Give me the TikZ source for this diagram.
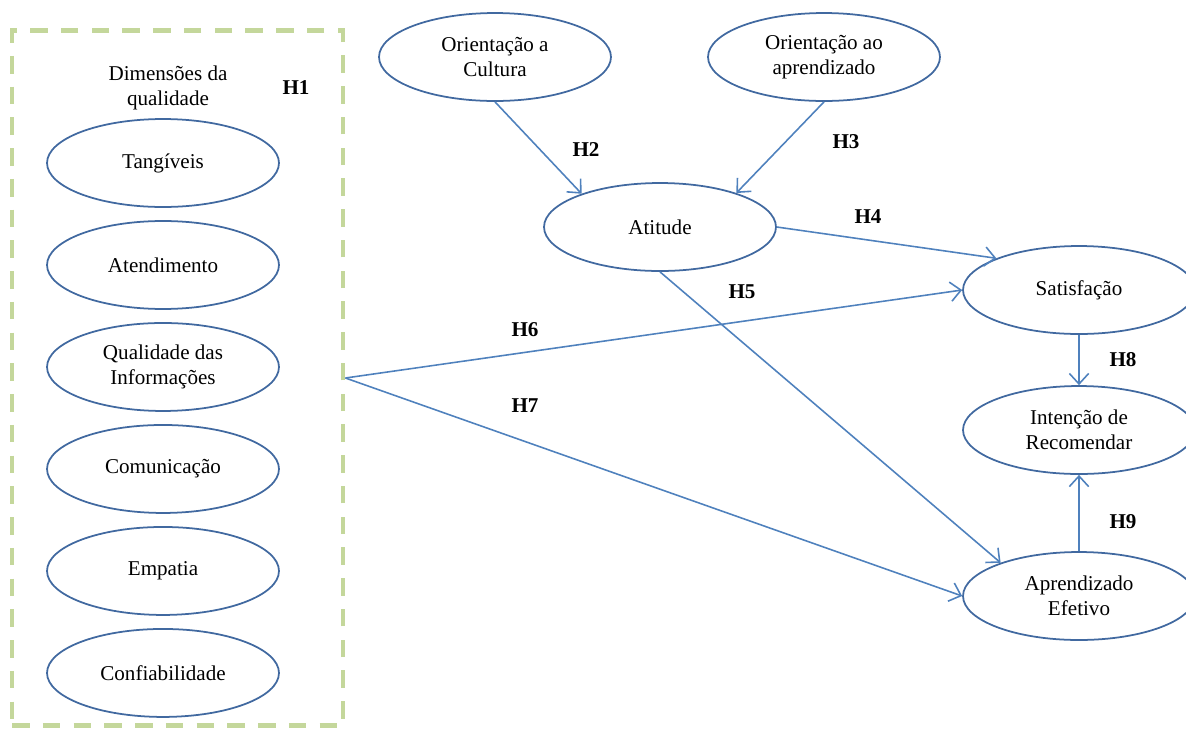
\documentclass[tikz,border=0pt]{standalone}
\usepackage{fontspec}
\setmainfont{Liberation Serif}
\usetikzlibrary{arrows.meta, positioning, shapes.geometric}

\definecolor{ovalblue}{RGB}{65,105,160}
\definecolor{linkblue}{RGB}{79,129,189}
\definecolor{dashgreen}{RGB}{196,215,155}

\begin{document}
\begin{tikzpicture}[
        x=0.02cm, y=-0.02cm,
        construct/.style={ellipse, draw=ovalblue, line width=1pt, minimum width=4.64cm, minimum height=1.76cm, inner sep=0pt, align=center, font=\fontsize{12}{14.2}\selectfont},
        groupbox/.style={rectangle, draw=dashgreen, line width=2.8pt, dash pattern=on 10pt off 7.5pt, minimum width=6.62cm, minimum height=13.92cm, inner sep=0pt},
        hyp/.style={font=\fontsize{12}{14}\selectfont\bfseries, inner sep=1pt},
        line/.style={-{Straight Barb[length=6pt, width=11pt]}, draw=linkblue, line width=0.9pt}
    ]
    \clip (0,0) rectangle (1186,728);
    \node[groupbox] (dim) at (177.5,378) {};
    \node[align=center, font=\fontsize{12}{14.2}\selectfont] (dimtitle) at (168,88) {Dimensões da\\qualidade};
    \node[construct] (tang) at (163,163) {Tangíveis};
    \node[construct, below=0.245cm of tang] (aten) {Atendimento};
    \node[construct, below=0.245cm of aten] (qual) {Qualidade das\\Informações};
    \node[construct, below=0.245cm of qual] (comu) {Comunicação};
    \node[construct, below=0.245cm of comu] (empa) {Empatia};
    \node[construct, below=0.245cm of empa] (conf) {Confiabilidade};
    \node[construct] (cult) at (495,57) {Orientação a\\Cultura};
    \node[construct] (orap) at (824,57) {Orientação ao\\aprendizado};
    \node[construct] (atit) at (660,227) {Atitude};
    \node[construct] (sat) at (1079,290) {Satisfação};
    \node[construct] (inte) at (1079,430) {Intenção de\\Recomendar};
    \node[construct] (apr) at (1079,596) {Aprendizado\\Efetivo};
    \node[hyp] (h1) at (296,88) {H1};
    \node[hyp] (h2) at (586,150) {H2};
    \node[hyp] (h3) at (846,142) {H3};
    \node[hyp] (h4) at (868,217) {H4};
    \node[hyp] (h5) at (742,292) {H5};
    \node[hyp] (h6) at (525,330) {H6};
    \node[hyp] (h7) at (525,406) {H7};
    \node[hyp] (h8) at (1123,360) {H8};
    \node[hyp] (h9) at (1123,522) {H9};
    \draw[line] (cult.south) -- (atit.157);
    \draw[line] (orap.south) -- (atit.24);
    \draw[line] (atit.east) -- (sat.159);
    \draw[line] (atit.south) -- (apr.157);
    \draw[line] (dim.east) -- (sat.west);
    \draw[line] (dim.east) -- (apr.west);
    \draw[line] (sat.south) -- (inte.north);
    \draw[line] (apr.north) -- (inte.south);
\end{tikzpicture}
\end{document}
